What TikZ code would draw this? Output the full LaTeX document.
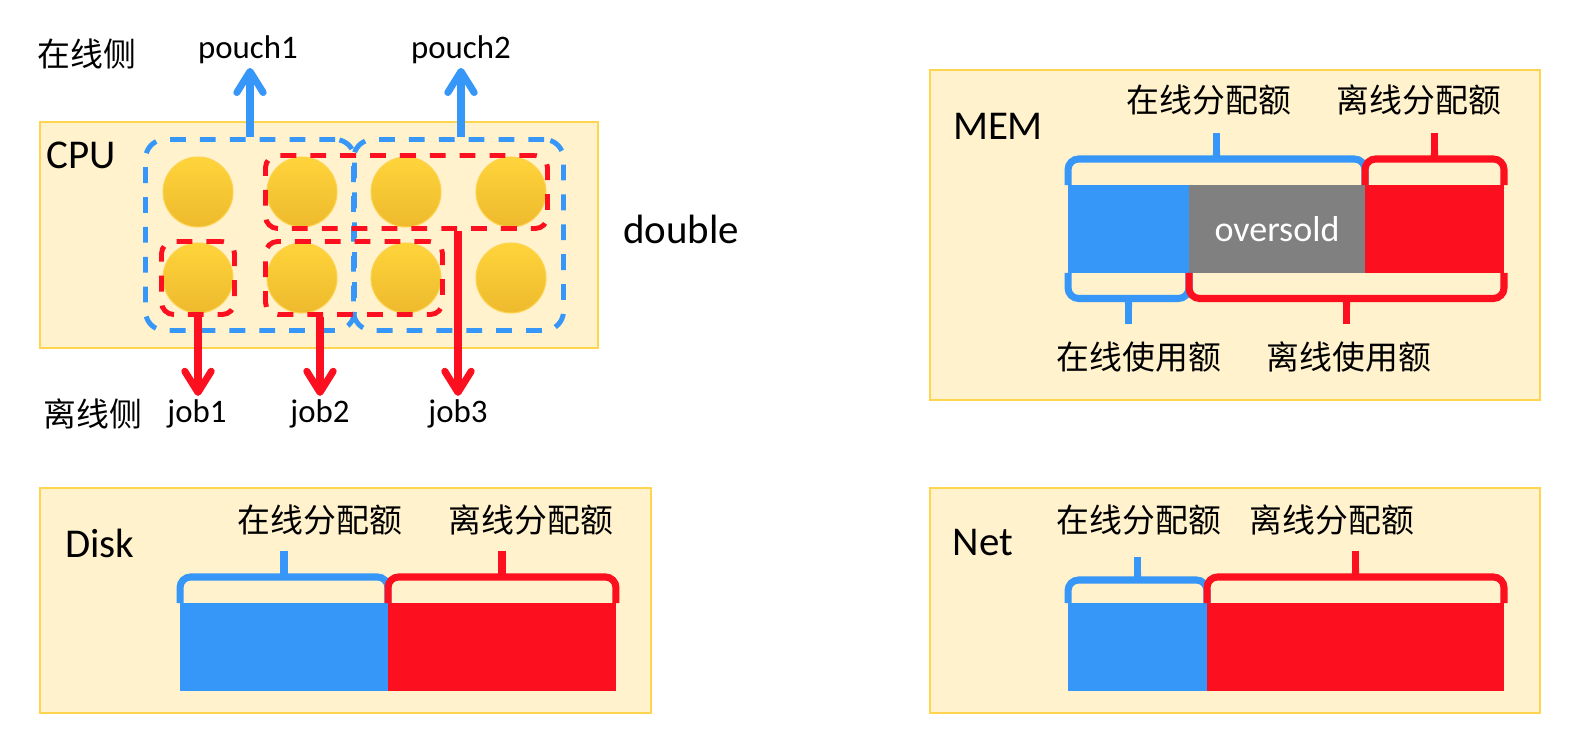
\documentclass[tikz,border=0pt]{standalone}
\usepackage{fontspec}
\setmainfont{Carlito}
\newfontfamily\cjk{Noto Sans CJK SC}
\usepackage{tikz}
\usetikzlibrary{positioning, shapes.geometric, arrows.meta, calc, fit}
\usepackage{xcolor}
\definecolor{qpanel}{HTML}{FFF2CC}
\definecolor{qedge}{HTML}{FFD54F}
\definecolor{qblue}{HTML}{3797F8}
\definecolor{qred}{HTML}{FC0F1E}
\definecolor{qgray}{HTML}{808080}
\definecolor{qgoldtop}{HTML}{FFD43B}
\definecolor{qgoldbot}{HTML}{EDBA2D}
\definecolor{qgoldedge}{HTML}{FFD24D}

% brace over a bar: colour, start, end, height in px (negative = up)
\newcommand\qbrace[4]{%
  \draw[brcline, draw=#1] (#2) -- ($(#2)+(0,#4/2)$) -- ($(#3)+(0,#4/2)$) -- (#3);
  \fill[#1] ($(#2)!0.5!(#3)+(-9,#4/2)$) .. controls ($(#2)!0.5!(#3)+(-3.5,#4/2)$)
    .. ($(#2)!0.5!(#3)+(-3.5,#4*0.66)$) -- ($(#2)!0.5!(#3)+(3.5,#4*0.66)$)
    .. controls ($(#2)!0.5!(#3)+(3.5,#4/2)$) .. ($(#2)!0.5!(#3)+(9,#4/2)$) -- cycle;
  \draw[brcline, draw=#1, rounded corners=0pt] ($(#2)!0.5!(#3)+(0,#4/2)$) -- ($(#2)!0.5!(#3)+(0,#4)$);
}

\begin{document}
\begin{tikzpicture}[x=0.02cm, y=-0.02cm,
    panel/.style={fill=qpanel, draw=qedge, line width=0.9pt},
    core/.style={circle, minimum size=1.4cm, inner sep=0pt, top color=qgoldtop,
                 bottom color=qgoldbot, draw=qgoldedge, line width=0.6pt},
    pouchbox/.style={draw=qblue, line width=2.8pt, dash pattern=on 9pt off 8pt,
                     rounded corners=11pt, inner sep=0.34cm},
    jobbox/.style={draw=qred, line width=2.8pt, dash pattern=on 9pt off 8pt,
                   rounded corners=7pt, inner sep=0.02cm},
    uparr/.style={draw=qblue, line width=4pt, -{Straight Barb[length=12pt, width=15pt, round]}},
    downarr/.style={draw=qred, line width=4pt, -{Straight Barb[length=12pt, width=15pt, round]}},
    seg/.style={inner sep=0pt, outer sep=0pt, minimum height=1.76cm},
    brcline/.style={line width=4pt, rounded corners=6pt},
    big/.style={font=\fontsize{23.3pt}{28pt}\selectfont},
    lbl/.style={font=\fontsize{18.7pt}{22pt}\selectfont, inner sep=2pt},
    sold/.style={font=\fontsize{20.5pt}{24pt}\selectfont, text=white},
    zh/.style={font=\cjk\fontsize{18.7pt}{22pt}\selectfont}]
    \useasboundingbox (0,0) rectangle (1576,736);

    % CPU
    \draw[panel] (40,122) rectangle (598,348);
    \node[big] (cpu) at (81,155) {CPU};
    \node[core] (a1) at (198,192) {};
    \node[core] (a2) at (302,192) {};
    \node[core] (a3) at (406,192) {};
    \node[core] (a4) at (511,192) {};
    \node[core] (b1) at (198,278) {};
    \node[core] (b2) at (302,278) {};
    \node[core] (b3) at (406,278) {};
    \node[core] (b4) at (511,278) {};
    \node[pouchbox, fit=(a1)(b2)] (pod1) {};
    \node[pouchbox, fit=(a3)(b4)] (pod2) {};
    \node[jobbox, fit=(b1)] (j1box) {};
    \node[jobbox, fit=(b2)(b3)] (j2box) {};
    \node[jobbox, fit=(a2)(a4)] (j3box) {};
    \node[zh] (online) at (87,54) {在线侧};
    \node[lbl] (pouch1) at (248,50) {pouch1};
    \node[lbl] (pouch2) at (461,50) {pouch2};
    \node[zh] (offline) at (93,414) {离线侧};
    \node[lbl] (job1) at (197,414) {job1};
    \node[lbl] (job2) at (320,414) {job2};
    \node[lbl] (job3) at (458,414) {job3};
    \node[big] (dbl) at (681,229) {double};
    \draw[uparr] (pod1.north) -- (pod1.north |- pouch1.south);
    \draw[uparr] (pod2.north -| pouch2.south) -- (pouch2.south);
    \draw[downarr] (j1box.south) -- (j1box.south |- job1.north);
    \draw[downarr] (j2box.south -| job2.north) -- (job2.north);
    \draw[downarr] (j3box.south -| job3.north) -- (job3.north);

    % MEM
    \draw[panel] (930,70) rectangle (1540,400);
    \node[big] (mem) at (998,126) {MEM};
    \node[seg, fill=qblue, minimum width=2.42cm] (memon) at (1128.5,229) {};
    \node[seg, fill=qgray, minimum width=3.52cm, sold] (memsold) at (1277,229) {oversold};
    \node[seg, fill=qred, minimum width=2.78cm] (memoff) at (1434.5,229) {};
    \qbrace{qblue}{memon.north west}{memsold.north east}{-52}
    \qbrace{qred}{memoff.north west}{memoff.north east}{-52}
    \qbrace{qblue}{memon.south west}{memon.south east}{51}
    \qbrace{qred}{memsold.south west}{memoff.south east}{51}
    \node[zh] (memonq) at (1209,100) {在线分配额};
    \node[zh] (memoffq) at (1419,100) {离线分配额};
    \node[zh] (memonu) at (1139,357) {在线使用额};
    \node[zh] (memoffu) at (1349,357) {离线使用额};

    % Disk
    \draw[panel] (40,488) rectangle (651,713);
    \node[big] (disk) at (100,543) {Disk};
    \node[seg, fill=qblue, minimum width=4.16cm] (diskon) at (284,647) {};
    \node[seg, fill=qred, minimum width=4.56cm] (diskoff) at (502,647) {};
    \qbrace{qblue}{diskon.north west}{diskon.north east}{-52}
    \qbrace{qred}{diskoff.north west}{diskoff.north east}{-52}
    \node[zh] (diskonq) at (320,520) {在线分配额};
    \node[zh] (diskoffq) at (531,520) {离线分配额};

    % Net
    \draw[panel] (930,488) rectangle (1540,713);
    \node[big] (net) at (983,543) {Net};
    \node[seg, fill=qblue, minimum width=2.78cm] (neton) at (1137.5,647) {};
    \node[seg, fill=qred, minimum width=5.94cm] (netoff) at (1355.5,647) {};
    \qbrace{qblue}{neton.north west}{neton.north east}{-46}
    \qbrace{qred}{netoff.north west}{netoff.north east}{-52}
    \node[zh] (netonq) at (1139,520) {在线分配额};
    \node[zh] (netoffq) at (1332,520) {离线分配额};
\end{tikzpicture}
\end{document}
